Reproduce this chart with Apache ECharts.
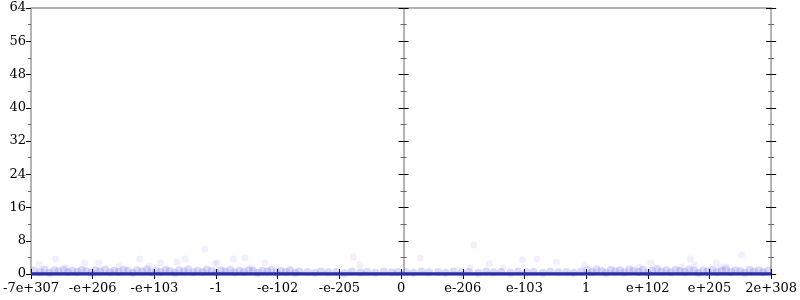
<!DOCTYPE html>
<html><head><meta charset="utf-8">
<script src="https://cdn.jsdelivr.net/npm/echarts@6/dist/echarts.min.js"></script>
<style>html,body{margin:0;padding:0;background:#fff}#c{width:800px;height:300px}</style>
</head><body><div id="c"></div>
<script>
var xTickLabels = ['-7e+307','-e+206','-e+103','-1','-e-102','-e-205','0','e-206','e-103','1','e+102','e+205','2e+308'];
var yTicks = [0, 8, 16, 24, 32, 40, 48, 56, 64];
var zeroLine = [[-6, 0], [6, 0]];
var bandPoints = [
[-5.95,0.8],[-5.85,0.5],[-5.78,1.0],[-5.7,0.3],[-5.62,0.9],[-5.55,0.6],[-5.47,1.1],[-5.4,0.4],[-5.33,0.8],[-5.25,0.5],
[-5.18,1.0],[-5.1,0.7],[-5.02,0.3],[-4.95,0.9],[-4.88,0.6],[-4.8,1.1],[-4.72,0.4],[-4.65,0.8],[-4.58,0.5],[-4.5,1.0],
[-4.43,0.7],[-4.35,0.3],[-4.28,0.9],[-4.2,0.6],[-4.12,1.1],[-4.05,0.4],[-3.97,0.8],[-3.9,0.5],[-3.82,1.0],[-3.75,0.7],
[-3.67,0.3],[-3.6,0.9],[-3.52,0.6],[-3.45,1.1],[-3.37,0.4],[-3.3,0.8],[-3.22,0.5],[-3.15,1.0],[-3.07,0.7],[-3.0,0.3],
[-2.92,0.9],[-2.85,0.6],[-2.77,1.0],[-2.7,0.4],[-2.62,0.8],[-2.55,0.5],[-2.47,0.9],[-2.4,0.7],[-2.32,0.3],[-2.25,0.8],
[-2.17,0.6],[-2.1,1.0],[-2.02,0.4],[-1.95,0.7],[-1.87,0.5],[-1.8,0.9],[-1.72,0.3],[-1.65,0.6],
[-1.52,0.5],[-1.4,0.3],[-1.3,0.6],[-1.18,0.4],[-1.05,0.5],[-0.92,0.2],[-0.8,0.6],[-0.66,0.4],[-0.55,0.5],[-0.42,0.3],
[-0.28,0.6],[-0.15,0.4],[-0.05,0.5],[0.08,0.5],[0.2,0.3],[0.33,0.6],[0.45,0.4],[0.6,0.5],[0.72,0.3],[0.85,0.6],
[0.98,0.4],[1.1,0.5],[1.25,0.3],[1.38,0.6],[1.5,0.4],[1.62,0.5],[1.77,0.3],[1.9,0.6],[2.03,0.4],[2.15,0.5],
[2.3,0.3],[2.42,0.6],[2.55,0.4],[2.68,0.5],[2.8,0.3],[2.92,0.6],
[3.02,0.9],[3.1,0.5],[3.17,1.1],[3.25,0.7],[3.32,0.3],[3.4,1.0],[3.47,0.6],[3.55,0.9],[3.62,0.4],[3.7,1.1],
[3.77,0.7],[3.85,0.5],[3.92,1.0],[4.0,0.3],[4.07,0.8],[4.15,1.2],[4.22,0.6],[4.3,0.9],[4.37,0.4],[4.45,1.0],
[4.52,0.7],[4.6,0.5],[4.67,1.1],[4.75,0.8],[4.82,0.3],[4.9,0.9],[4.97,0.6],[5.05,1.0],[5.12,0.4],[5.2,0.8],
[5.27,1.1],[5.35,0.5],[5.42,0.9],[5.5,0.7],[5.57,0.3],[5.65,1.0],[5.72,0.6],[5.8,0.9],[5.87,0.4],[5.95,0.8]
];
var outlierPoints = [
[-5.60,3.6],[-4.24,3.6],[-3.18,6.0],[-4.90,2.7],[-3.63,2.9],[-3.50,3.6],[-5.13,2.7],[-3.90,2.7],[-3.02,2.4],[-5.87,2.4],
[-4.57,1.9],[-4.08,1.9],[-5.43,1.5],[-2.98,2.7],[-2.72,3.6],[-2.53,3.9],[-2.21,2.7],[-0.77,4.1],[-0.67,2.2],[-2.42,1.5],
[1.18,7.0],[0.31,3.9],[1.43,2.4],[1.97,3.4],[2.20,3.6],[2.52,2.9],[1.12,1.5],[1.65,1.5],[2.97,2.2],
[4.05,2.7],[4.69,3.6],[4.76,2.2],[5.11,2.7],[5.18,1.7],[5.52,4.6],[5.27,1.7],[3.86,1.7],[4.55,1.7]
];

var FONT = 'DejaVu Serif';
var GREY = '#b4b4b4';
function yAx(opts) {
  var base = {
    type: 'value', min: 0, max: 64, interval: 8,
    axisLine: { show: true, onZero: false, lineStyle: { color: GREY, width: 2 } },
    axisTick: { show: true, length: 5, inside: false, lineStyle: { color: '#000', width: 1 } },
    minorTick: { show: true, splitNumber: 2, length: 3, lineStyle: { color: '#666', width: 1 } },
    axisLabel: { show: false },
    splitLine: { show: false }
  };
  for (var k in opts) base[k] = opts[k];
  return base;
}
var chart = echarts.init(document.getElementById('c'), null, { renderer: 'canvas' });
chart.setOption({
  animation: false,
  grid: { left: 28, right: 27, top: 8, bottom: 26, containLabel: false },
  xAxis: [
    { type: 'value', min: -6, max: 6, interval: 1, position: 'bottom',
      axisLine: { show: false, onZero: false },
      axisTick: { show: true, length: 5, inside: false, lineStyle: { color: '#000' } },
      axisLabel: { show: true, margin: 8, fontFamily: FONT, fontSize: 13, color: '#000',
        formatter: function (v) { return xTickLabels[Math.round(v) + 6]; } },
      splitLine: { show: false } },
    { type: 'value', min: -6, max: 6, interval: 1, position: 'bottom',
      axisLine: { show: false, onZero: false },
      axisTick: { show: true, length: 5, inside: true, lineStyle: { color: '#000' } },
      axisLabel: { show: false }, splitLine: { show: false } },
    { type: 'value', min: -6, max: 6, interval: 1, position: 'top',
      axisLine: { show: true, onZero: false, lineStyle: { color: GREY, width: 2 } },
      axisTick: { show: false }, axisLabel: { show: false }, splitLine: { show: false } }
  ],
  yAxis: [
    yAx({ position: 'left',
      axisLabel: { show: true, margin: 5, fontFamily: FONT, fontSize: 13, color: '#000',
        formatter: function (v) { return yTicks.indexOf(v) >= 0 ? String(v) : ''; } } }),
    yAx({ position: 'right' }),
    yAx({ position: 'right', axisTick: { show: true, length: 5, inside: true, lineStyle: { color: '#000' } },
      minorTick: { show: true, splitNumber: 2, length: 3, lineStyle: { color: '#666' } } }),
    yAx({ position: 'left', offset: -372.5 }),
    yAx({ position: 'left', offset: -372.5, axisTick: { show: true, length: 5, inside: true, lineStyle: { color: '#000' } },
      minorTick: { show: true, splitNumber: 2, length: 3, lineStyle: { color: '#666' } } })
  ],
  series: [
    { type: 'scatter', xAxisIndex: 0, yAxisIndex: 0, data: bandPoints, symbol: 'circle', symbolSize: 8,
      itemStyle: { color: 'rgba(70,70,225,0.24)' }, silent: true, z: 2 },
    { type: 'scatter', xAxisIndex: 0, yAxisIndex: 0, data: outlierPoints, symbol: 'circle', symbolSize: 7,
      itemStyle: { color: 'rgba(70,70,225,0.10)' }, silent: true, z: 2 },
    { type: 'line', xAxisIndex: 0, yAxisIndex: 0, data: zeroLine, showSymbol: false, symbol: 'none',
      lineStyle: { color: '#2c2ca8', width: 3.5 }, silent: true, z: 3 }
  ]
});
</script></body></html>
